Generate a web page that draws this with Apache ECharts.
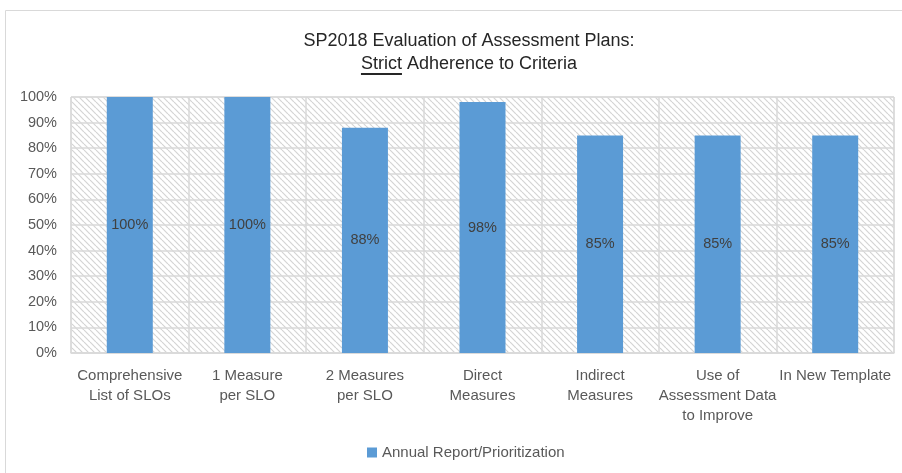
<!DOCTYPE html>
<html>
<head>
<meta charset="utf-8">
<script src="https://cdn.jsdelivr.net/npm/echarts@6/dist/echarts.min.js"></script>
<style>html,body{margin:0;padding:0;background:#fff}#c{width:902px;height:473px}</style>
</head>
<body>
<div id="c"></div>
<script>
const categories = ['Comprehensive\nList of SLOs', '1 Measure\nper SLO', '2 Measures\nper SLO', 'Direct\nMeasures', 'Indirect\nMeasures', 'Use of\nAssessment Data\nto Improve', 'In New Template'];
const values = [100, 100, 88, 98, 85, 85, 85];
const seriesName = 'Annual Report/Prioritization';
const titleLine1 = 'SP2018 Evaluation of Assessment Plans:';
const titleUnder = 'Strict';
const titleRest = ' Adherence to Criteria';

const FONT = '"Liberation Sans", Arial, sans-serif';

// hatch pattern
const pc = document.createElement('canvas');
pc.width = 6; pc.height = 6;
const g = pc.getContext('2d');
g.fillStyle = '#ffffff'; g.fillRect(0, 0, 6, 6);
g.strokeStyle = '#d4d4d4'; g.lineWidth = 1.2;
for (let k = -6; k <= 12; k += 6) {
  g.beginPath(); g.moveTo(k, 0); g.lineTo(k + 6, 6); g.stroke();
}

const underlineFill = {
  type: 'linear', x: 0, y: 0, x2: 0, y2: 1,
  colorStops: [
    {offset: 0, color: 'rgba(0,0,0,0)'},
    {offset: 0.9, color: 'rgba(0,0,0,0)'},
    {offset: 0.9, color: '#262626'},
    {offset: 1, color: '#262626'}
  ]
};

const chart = echarts.init(document.getElementById('c'), null, {renderer: 'canvas'});
chart.setOption({
  animation: false,
  textStyle: {fontFamily: FONT},
  title: {
    text: titleLine1 + '\n{u|' + titleUnder + '}' + titleRest,
    left: 464, top: 25, textAlign: 'center',
    textStyle: {
      fontSize: 18, fontWeight: 'normal', color: '#262626', lineHeight: 23, fontFamily: FONT,
      rich: {
        u: {fontSize: 18, color: '#262626', fontFamily: FONT, lineHeight: 23, height: 21, backgroundColor: underlineFill}
      }
    }
  },
  graphic: [
    {type: 'rect', shape: {x: 5.5, y: 10.5, width: 960, height: 520}, style: {fill: 'none', stroke: '#d9d9d9', lineWidth: 1}, silent: true, z: -10}
  ],
  legend: {
    bottom: 8, left: 362,
    itemWidth: 10, itemHeight: 10, itemGap: 8,
    icon: 'rect',
    textStyle: {fontSize: 15, color: '#595959', fontFamily: FONT},
    data: [seriesName]
  },
  grid: {
    left: 71, right: 8, top: 97, bottom: 120,
    show: true,
    backgroundColor: {image: pc, repeat: 'repeat'},
    borderColor: '#d9d9d9', borderWidth: 1
  },
  xAxis: {
    type: 'category', data: categories,
    axisLine: {show: true, lineStyle: {color: '#d9d9d9', width: 1.5}},
    axisTick: {show: false},
    splitLine: {show: true, lineStyle: {color: '#d9d9d9', width: 1.5}},
    axisLabel: {fontSize: 15, color: '#595959', lineHeight: 20, margin: 13, interval: 0, fontFamily: FONT}
  },
  yAxis: {
    type: 'value', min: 0, max: 100, interval: 10,
    axisLine: {show: false}, axisTick: {show: false},
    splitLine: {lineStyle: {color: '#d9d9d9', width: 1.5}},
    axisLabel: {formatter: '{value}%', fontSize: 14.5, color: '#595959', margin: 14, fontFamily: FONT}
  },
  series: [{
    name: seriesName, type: 'bar', data: values, barWidth: 46,
    itemStyle: {color: '#5b9bd5'},
    label: {show: true, position: 'inside', formatter: '{c}%', fontSize: 14.5, color: '#404040', fontFamily: FONT}
  }]
});
</script>
</body>
</html>
